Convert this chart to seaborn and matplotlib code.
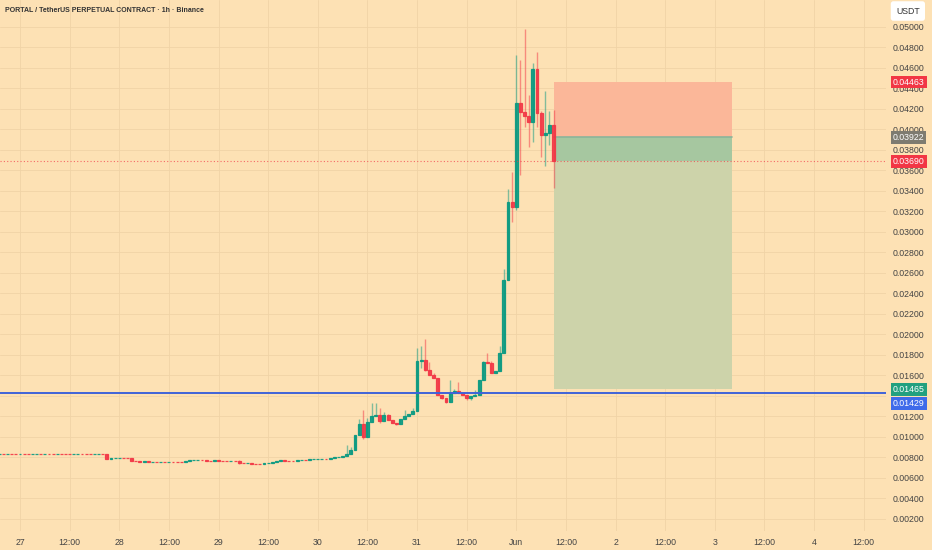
import matplotlib
matplotlib.use("Agg")
import matplotlib.pyplot as plt
import matplotlib.transforms as mtransforms
import seaborn as sns
import numpy as np

# hourly candles, hour 0 = 27 May 00:00
first_hour = -5
first_open = 0.00835
closes = [
    0.00836, 0.00835, 0.00836, 0.00834, 0.00833, 0.00835, 0.00834, 0.00833,
    0.00834, 0.00835, 0.00834, 0.00836, 0.00835, 0.00833, 0.00835, 0.00834,
    0.00833, 0.00832, 0.00834, 0.00836, 0.00834, 0.00833, 0.00831, 0.00836,
    0.00838, 0.00837,
    0.00788, 0.00796, 0.00798, 0.00799, 0.00797, 0.00795, 0.00768, 0.00762,
    0.00760, 0.00761, 0.00759, 0.00760, 0.00758, 0.00759, 0.00757, 0.00760,
    0.00758, 0.00755, 0.00753, 0.00765, 0.00772, 0.00775, 0.00776, 0.00774,
    0.00768, 0.00767, 0.00771, 0.00766, 0.00763, 0.00762, 0.00764, 0.00761,
    0.00745, 0.00743, 0.00745, 0.00741, 0.00737, 0.00736, 0.00742, 0.00748,
    0.00757, 0.00766, 0.00774, 0.00770, 0.00768, 0.00767, 0.00772, 0.00774,
    0.00773, 0.00782, 0.00785, 0.00786, 0.00788, 0.00787, 0.00795, 0.00800,
    0.00806, 0.00812, 0.00830, 0.00870, 0.01020, 0.01130, 0.01000, 0.01150,
    0.01205, 0.01215, 0.01160, 0.01215, 0.01165, 0.01140, 0.01130, 0.01180,
    0.01200, 0.01225, 0.01255, 0.01740, 0.01755, 0.01655, 0.01605, 0.01573,
    0.01410, 0.01385, 0.01345, 0.01426, 0.01449, 0.01430, 0.01405, 0.01380,
    0.01400, 0.01405, 0.01556, 0.01734, 0.01720, 0.01625, 0.01648, 0.01817,
    0.02532, 0.03296, 0.03247, 0.04256, 0.04174, 0.04134, 0.04076, 0.04587,
    0.04164, 0.03946, 0.03970, 0.04044, 0.03690,
]
# visible wicks (hour -> price); other candles have no visible wick
wick_highs = {
    53: 0.00780, 79: 0.00920, 80: 0.00900, 82: 0.01180, 83: 0.01260,
    84: 0.01190, 85: 0.01330, 86: 0.01330, 87: 0.01280, 88: 0.01240,
    89: 0.01220, 93: 0.01260, 95: 0.01280, 96: 0.01870, 97: 0.01890,
    98: 0.01960, 99: 0.01730, 100: 0.01620, 104: 0.01556, 105: 0.01470,
    106: 0.01540, 110: 0.01460, 112: 0.01740, 113: 0.01817, 114: 0.01740,
    116: 0.01890, 117: 0.02636, 118: 0.03416, 119: 0.03590, 120: 0.04727,
    121: 0.04678, 122: 0.04977, 123: 0.04337, 124: 0.04646, 125: 0.04759,
    126: 0.04180, 127: 0.04379, 128: 0.04184, 129: 0.04190,
}
wick_lows = {
    53: 0.00740, 83: 0.00980, 87: 0.01140, 91: 0.01120, 97: 0.01670,
    98: 0.01640, 102: 0.01370, 103: 0.01330, 108: 0.01360, 109: 0.01360,
    119: 0.03100, 120: 0.03210, 121: 0.03556, 122: 0.04021, 123: 0.03832,
    124: 0.03881, 125: 0.04027, 126: 0.03729, 127: 0.03644, 128: 0.03849,
    129: 0.03427,
}

# short position tool
pos_start, pos_end = 129, 172.2
stop_price = 0.04463
entry_price = 0.03922
last_price = 0.03690
target_price = 0.01465
support_price = 0.01429

tick_hours = list(range(0, 205, 12))
tick_labels = ["27", "12:00", "28", "12:00", "29", "12:00", "30", "12:00",
               "31", "12:00", "Jun", "12:00", "2", "12:00", "3", "12:00",
               "4", "12:00"]
price_ticks = [round(0.002 * k, 3) for k in range(1, 26)]
hidden_price_ticks = [0.014]  # sits under the target / line labels

bg = "#FDE1B4"
up = "#089981"
down = "#F23645"

sns.set_theme(style="white", rc={"axes.facecolor": bg, "figure.facecolor": bg})
plt.rcParams["font.family"] = ["Liberation Sans", "DejaVu Sans"]

fig = plt.figure(figsize=(9.32, 5.5), dpi=100)
ax = fig.add_axes([0, 19 / 550, 886 / 932, 531 / 550])

hours = np.arange(first_hour, first_hour + len(closes))
c = np.array(closes)
o = np.concatenate([[first_open], c[:-1]])
is_up = c >= o
cols = np.where(is_up, up, down)
body_lo = np.minimum(o, c)
body_hi = np.maximum(o, c)
hi = np.array([wick_highs.get(h, b) for h, b in zip(hours, body_hi)])
lo = np.array([wick_lows.get(h, b) for h, b in zip(hours, body_lo)])

ax.vlines(hours, lo, hi, colors=cols, linewidth=1, alpha=0.5, zorder=3)
ax.bar(hours, body_hi - body_lo, bottom=body_lo, width=0.7, color=cols,
       edgecolor=cols, linewidth=0.9, alpha=0.9, zorder=4)

# position tool
ax.fill_between([pos_start, pos_end], entry_price, stop_price,
                color="#FBB799", linewidth=0, zorder=2)
ax.fill_between([pos_start, pos_end], target_price, entry_price,
                color="#CDD3AA", linewidth=0, zorder=2)
ax.fill_between([pos_start, pos_end], last_price, entry_price,
                color="#A6C7A0", linewidth=0, zorder=2)
ax.plot([pos_start, pos_end], [entry_price, entry_price], color="#8BB49A",
        linewidth=1.2, zorder=2)

ax.axhline(support_price, color="#3F63D8", linewidth=1.4, zorder=5)
ax.axhline(last_price, color=down, linewidth=0.8, linestyle=(0, (1, 2)),
           alpha=0.7, zorder=5)

ax.set_xlim(-4.84, 209.4)
ax.set_ylim(0.000829, 0.052634)
ax.set_xticks(tick_hours)
ax.set_xticklabels(tick_labels)
ax.set_yticks(price_ticks)
ax.set_yticklabels(["" if p in hidden_price_ticks else f"{p:.5f}"
                    for p in price_ticks])
ax.yaxis.tick_right()
ax.tick_params(axis="y", length=0, pad=5, labelsize=6.3, labelcolor="#444444")
ax.tick_params(axis="x", length=0, pad=5, labelsize=6.3, labelcolor="#444444")
ax.grid(True, color="#F0D3A6", linewidth=0.6, zorder=0)
ax.set_axisbelow(True)
for s in ax.spines.values():
    s.set_visible(False)

# price labels on the right scale
trans = mtransforms.blended_transform_factory(ax.transAxes, ax.transData)
labels = [
    (stop_price, down, 0),
    (entry_price, "#7E7B70", 0),
    (last_price, down, 0),
    (target_price, "#22A07F", 0),
    (support_price, "#3F6BEA", -7.5),
]
for price, colr, dy in labels:
    ax.annotate(f"{price:.5f}", xy=(1.0, price), xycoords=trans,
                xytext=(5, dy), textcoords="offset points",
                ha="left", va="center", fontsize=6.3, color="white",
                zorder=10, annotation_clip=False,
                bbox=dict(boxstyle="square,pad=0.22", fc=colr, ec="none"))

fig.text(5 / 932, 1 - 10 / 550,
         "PORTAL / TetherUS PERPETUAL CONTRACT \u00b7 1h \u00b7 Binance",
         ha="left", va="center", fontsize=5.0, fontweight="bold",
         color="#333333")
fig.text(896 / 932, 1 - 11 / 550, "USDT", ha="left", va="center",
         fontsize=6.3, color="#333333",
         bbox=dict(boxstyle="round,pad=0.6,rounding_size=0.3", fc="white",
                   ec="none"))

fig.savefig("out.png", dpi=100, facecolor=bg)
